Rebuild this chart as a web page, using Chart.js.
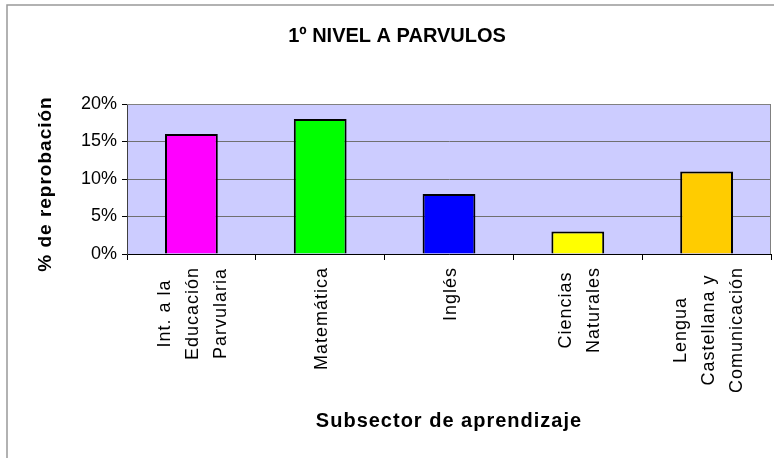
<!DOCTYPE html>
<html>
<head>
<meta charset="utf-8">
<script src="https://cdn.jsdelivr.net/npm/chart.js@4/dist/chart.umd.min.js"></script>
<style>
  html, body { margin: 0; padding: 0; background: #fff; }
  #wrap { width: 774px; height: 458px; }
</style>
</head>
<body>
<div id="wrap"><canvas id="myChart" width="774" height="458"></canvas></div>
<script>
'use strict';

const chartTitle = '1º NIVEL A PARVULOS';
const xTitle = 'Subsector de aprendizaje';
const yTitle = '% de reprobación';
const subjects = [
    ['Int. a la', 'Educación', 'Parvularia'],
    ['Matemática'],
    ['Inglés'],
    ['Ciencias', 'Naturales'],
    ['Lengua', 'Castellana y', 'Comunicación']
];
const failRates = [16, 18, 8, 3, 11];
const barColors = ['#FF00FF', '#00FF00', '#0000FF', '#FFFF00', '#FFCC00'];
const yTicks = [0, 5, 10, 15, 20];

const FONT = '"Liberation Sans", Arial, sans-serif';

// white page, outer frame and lilac plot area
const backdrop = {
    id: 'backdrop',
    beforeDraw(chart) {
        let ctx = chart.ctx;
        let a = chart.chartArea;
        ctx.save();
        ctx.fillStyle = '#fff';
        ctx.fillRect(0, 0, chart.width, chart.height);
        ctx.strokeStyle = '#999';
        ctx.lineWidth = 1.5;
        ctx.beginPath();
        ctx.moveTo(7, chart.height);
        ctx.lineTo(7, 5);
        ctx.lineTo(chart.width, 5);
        ctx.stroke();
        ctx.fillStyle = '#CCCCFF';
        ctx.fillRect(a.left, a.top, a.right - a.left, a.bottom - a.top);
        ctx.restore();
    },
    afterDatasetsDraw(chart) {
        let ctx = chart.ctx;
        let a = chart.chartArea;
        ctx.save();
        ctx.strokeStyle = '#808080';
        ctx.lineWidth = 1;
        ctx.beginPath();
        ctx.moveTo(a.left, a.top + 0.5);
        ctx.lineTo(a.right - 0.5, a.top + 0.5);
        ctx.lineTo(a.right - 0.5, a.bottom);
        ctx.stroke();
        ctx.restore();
    }
};

// titles and the wrapped, rotated category labels
const texts = {
    id: 'texts',
    afterDraw(chart) {
        let ctx = chart.ctx;
        let a = chart.chartArea;
        let xs = chart.scales.x;
        ctx.save();
        ctx.fillStyle = '#000';
        ctx.textAlign = 'center';
        ctx.textBaseline = 'middle';

        ctx.font = 'bold 20px ' + FONT;
        ctx.fillText(chartTitle, (a.left + a.right) / 2 - 52, 36);

        ctx.letterSpacing = '1px';
        ctx.font = 'bold 20px ' + FONT;
        ctx.fillText(xTitle, (a.left + a.right) / 2, 421);

        ctx.save();
        ctx.font = 'bold 19px ' + FONT;
        ctx.translate(46, 184);
        ctx.rotate(-Math.PI / 2);
        ctx.fillText(yTitle, 0, 0);
        ctx.restore();

        ctx.font = '18px ' + FONT;
        subjects.forEach((lines, i) => {
            let cx = xs.getPixelForValue(i);
            let maxW = Math.max(...lines.map(l => ctx.measureText(l).width));
            let cy = a.bottom + 13 + maxW / 2;
            lines.forEach((line, j) => {
                ctx.save();
                ctx.translate(cx + 2 + (j - (lines.length - 1) / 2) * 28, cy);
                ctx.rotate(-Math.PI / 2);
                ctx.fillText(line, 0, 0);
                ctx.restore();
            });
        });
        ctx.restore();
    }
};

let ctx = document.getElementById('myChart');
let myBar = new Chart(ctx, {
    type: 'bar',
    data: {
        labels: subjects.map(s => s.join(' ')),
        datasets: [{
            data: failRates,
            backgroundColor: barColors,
            borderColor: '#000',
            borderWidth: 2,
            borderSkipped: 'bottom',
            barPercentage: 0.41,
            categoryPercentage: 1
        }]
    },
    options: {
        responsive: false,
        animation: false,
        events: [],
        layout: { padding: { top: 104, right: 3, left: 0, bottom: 0 } },
        plugins: {
            legend: { display: false },
            title: { display: false },
            tooltip: { enabled: false }
        },
        scales: {
            x: {
                afterFit: scale => { scale.height = 204; },
                ticks: { display: false },
                grid: {
                    display: true,
                    offset: true,
                    drawOnChartArea: false,
                    tickLength: 6,
                    color: '#000'
                },
                border: { color: '#000', width: 1 }
            },
            y: {
                min: 0,
                max: 20,
                afterFit: scale => { scale.width = 127; },
                afterBuildTicks: scale => { scale.ticks = yTicks.map(v => ({ value: v })); },
                ticks: {
                    padding: 5,
                    color: '#000',
                    font: { family: FONT, size: 18 },
                    callback: v => v + '%'
                },
                grid: {
                    color: '#707070',
                    tickLength: 5,
                    tickColor: '#000'
                },
                border: { color: '#404040', width: 1 }
            }
        }
    },
    plugins: [backdrop, texts]
});
</script>
</body>
</html>
